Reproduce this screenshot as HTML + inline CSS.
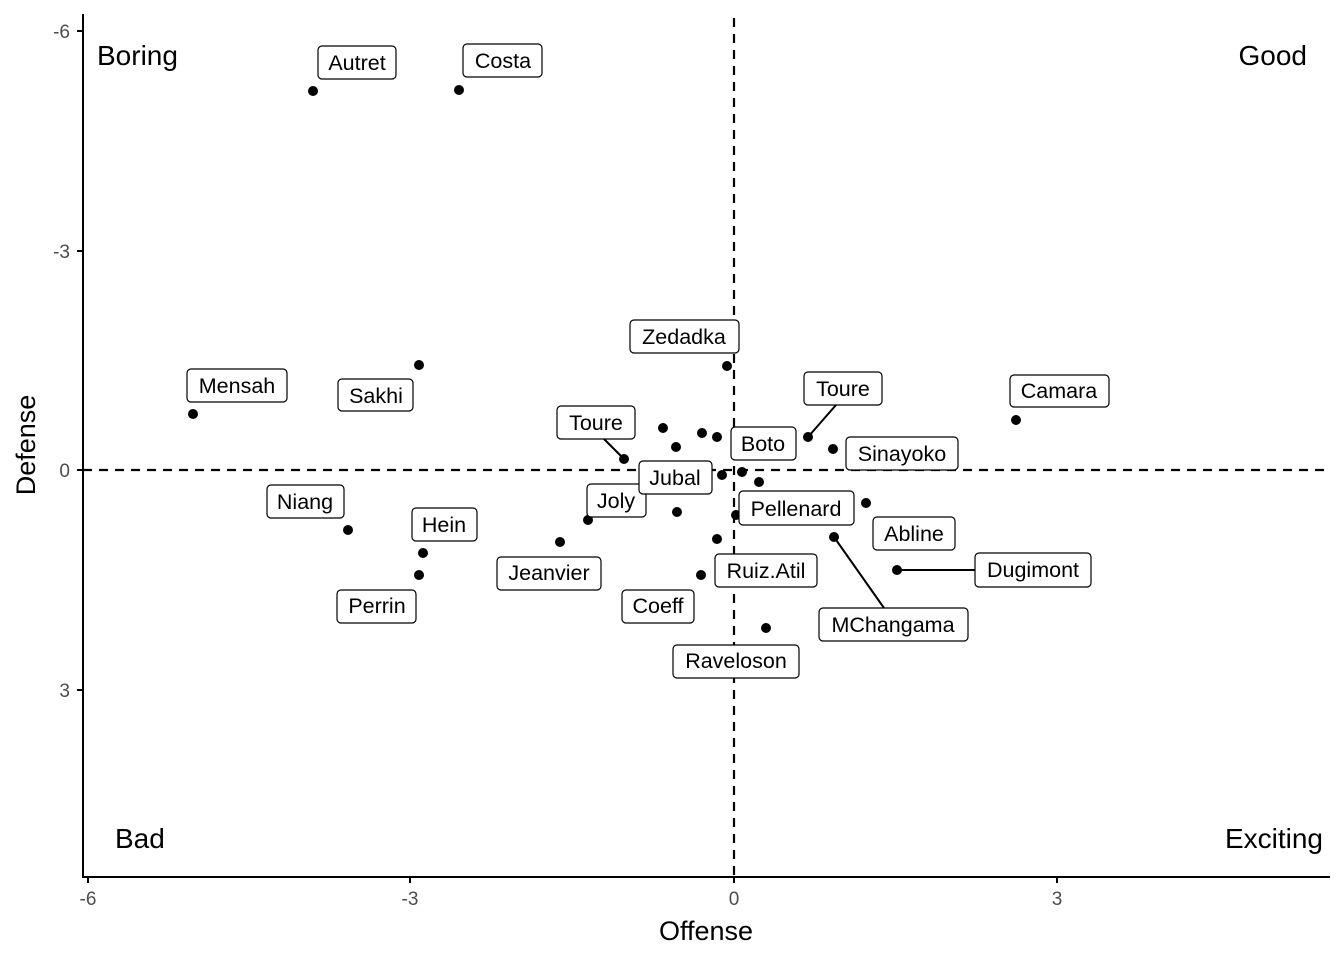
<!DOCTYPE html>
<html><head><meta charset="utf-8"><style>body{margin:0;background:#fff}svg{display:block}text{font-family:"Liberation Sans",sans-serif}</style></head>
<body>
<svg width="1344" height="960" xmlns="http://www.w3.org/2000/svg">
<g stroke="#000" stroke-width="2.2" stroke-dasharray="9,7">
<line x1="734" y1="18" x2="734" y2="877"/>
<line x1="83" y1="470" x2="1330" y2="470"/>
</g>
<g stroke="#000" stroke-width="2">
<line x1="83" y1="14" x2="83" y2="878"/>
<line x1="82" y1="877" x2="1330" y2="877"/>
<line x1="77" y1="31" x2="83" y2="31"/><line x1="77" y1="251" x2="83" y2="251"/><line x1="77" y1="470" x2="83" y2="470"/><line x1="77" y1="690" x2="83" y2="690"/>
<line x1="88" y1="877" x2="88" y2="883"/><line x1="410" y1="877" x2="410" y2="883"/><line x1="734" y1="877" x2="734" y2="883"/><line x1="1057" y1="877" x2="1057" y2="883"/>
</g>
<g font-size="19" fill="#4d4d4d" text-anchor="end">
<text x="70" y="38">-6</text><text x="70" y="258">-3</text><text x="70" y="477">0</text><text x="70" y="697">3</text>
</g>
<g font-size="19" fill="#4d4d4d" text-anchor="middle">
<text x="88" y="905">-6</text><text x="410" y="905">-3</text><text x="734" y="905">0</text><text x="1057" y="905">3</text>
</g>
<text x="706" y="940" font-size="27" text-anchor="middle">Offense</text>
<text transform="translate(35,445) rotate(-90)" font-size="27" text-anchor="middle">Defense</text>
<g font-size="28">
<text x="97" y="65">Boring</text>
<text x="1307" y="65" text-anchor="end">Good</text>
<text x="115" y="848">Bad</text>
<text x="1323" y="848" text-anchor="end">Exciting</text>
</g>
<g stroke="#000" stroke-width="2">
<line x1="808" y1="437" x2="836" y2="405"/>
<line x1="624" y1="459" x2="604" y2="439"/>
<line x1="897" y1="570" x2="975" y2="570"/>
<line x1="834" y1="537" x2="884" y2="608"/>
</g>
<g fill="#000">
<circle cx="313" cy="91" r="5"/><circle cx="459" cy="90" r="5"/><circle cx="193" cy="414" r="5"/><circle cx="419" cy="365" r="5"/>
<circle cx="727" cy="366" r="5"/><circle cx="1016" cy="420" r="5"/><circle cx="808" cy="437" r="5"/><circle cx="833" cy="449" r="5"/>
<circle cx="624" cy="459" r="5"/><circle cx="663" cy="428" r="5"/><circle cx="702" cy="433" r="5"/><circle cx="717" cy="437" r="5"/>
<circle cx="676" cy="447" r="5"/><circle cx="722" cy="475" r="5"/><circle cx="742" cy="472" r="5"/><circle cx="759" cy="482" r="5"/>
<circle cx="866" cy="503" r="5"/><circle cx="677" cy="512" r="5"/><circle cx="736" cy="515" r="5"/><circle cx="588" cy="520" r="5"/>
<circle cx="560" cy="542" r="5"/><circle cx="717" cy="539" r="5"/><circle cx="834" cy="537" r="5"/><circle cx="348" cy="530" r="5"/>
<circle cx="423" cy="553" r="5"/><circle cx="419" cy="575" r="5"/><circle cx="701" cy="575" r="5"/><circle cx="897" cy="570" r="5"/>
<circle cx="766" cy="628" r="5"/>
</g>
<g font-size="21.5" text-anchor="middle">
<g fill="#fff" stroke="#000" stroke-width="1.2">
<rect x="318" y="46" width="78" height="33" rx="4"/>
<rect x="463" y="44" width="79" height="33" rx="4"/>
<rect x="187" y="369" width="100" height="33" rx="4"/>
<rect x="338" y="379" width="75" height="32" rx="4"/>
<rect x="630" y="320" width="109" height="33" rx="4"/>
<rect x="804" y="372" width="78" height="33" rx="4"/>
<rect x="1010" y="375" width="99" height="32" rx="4"/>
<rect x="557" y="406" width="78" height="33" rx="4"/>
<rect x="731" y="427" width="65" height="33" rx="4"/>
<rect x="846" y="437" width="112" height="33" rx="4"/>
<rect x="587" y="484" width="59" height="33" rx="4"/>
<rect x="639" y="461" width="73" height="33" rx="4"/>
<rect x="739" y="491" width="115" height="34" rx="4"/>
<rect x="267" y="485" width="77" height="33" rx="4"/>
<rect x="412" y="508" width="65" height="33" rx="4"/>
<rect x="873" y="517" width="82" height="33" rx="4"/>
<rect x="497" y="557" width="104" height="33" rx="4"/>
<rect x="715" y="554" width="102" height="33" rx="4"/>
<rect x="975" y="553" width="116" height="34" rx="4"/>
<rect x="337" y="590" width="79" height="33" rx="4"/>
<rect x="622" y="590" width="72" height="33" rx="4"/>
<rect x="819" y="608" width="149" height="33" rx="4"/>
<rect x="673" y="645" width="126" height="33" rx="4"/>
</g>
<text x="357" y="70">Autret</text>
<text x="503" y="68">Costa</text>
<text x="237" y="393">Mensah</text>
<text x="376" y="403">Sakhi</text>
<text x="684" y="344">Zedadka</text>
<text x="843" y="396">Toure</text>
<text x="1059" y="398">Camara</text>
<text x="596" y="430">Toure</text>
<text x="763" y="451">Boto</text>
<text x="902" y="461">Sinayoko</text>
<text x="616" y="508">Joly</text>
<text x="675" y="485">Jubal</text>
<text x="796" y="516">Pellenard</text>
<text x="305" y="509">Niang</text>
<text x="444" y="532">Hein</text>
<text x="914" y="541">Abline</text>
<text x="549" y="580">Jeanvier</text>
<text x="766" y="578">Ruiz.Atil</text>
<text x="1033" y="577">Dugimont</text>
<text x="377" y="613">Perrin</text>
<text x="658" y="613">Coeff</text>
<text x="893" y="632">MChangama</text>
<text x="736" y="668">Raveloson</text>
</g>
</svg>
</body></html>
